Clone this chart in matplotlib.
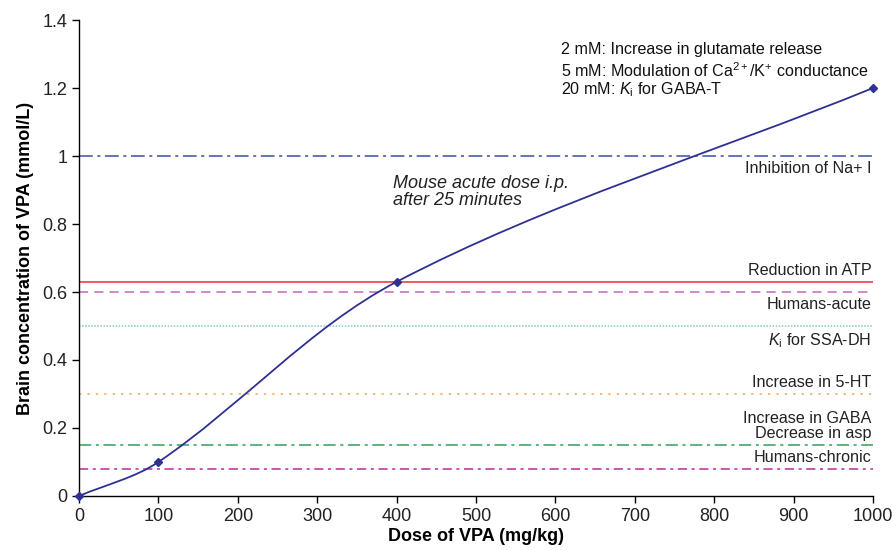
import matplotlib.pyplot as plt
from matplotlib.path import Path
from matplotlib.patches import PathPatch
import numpy as np

plt.rcParams['font.family'] = ['Liberation Sans', 'DejaVu Sans']
plt.rcParams['mathtext.fontset'] = 'custom'
plt.rcParams['mathtext.rm'] = 'Liberation Sans'
plt.rcParams['mathtext.it'] = 'Liberation Sans:italic'

# measured points (dose mg/kg, brain concentration mmol/L)
dose = [0, 100, 400, 1000]
conc = [0, 0.1, 0.63, 1.2]

# reference levels with their labels
levels = [1.0, 0.63, 0.6, 0.5, 0.3, 0.15, 0.08]
level_labels = ['Inhibition of Na+ I', 'Reduction in ATP', 'Humans-acute',
                '$K_\\mathrm{i}$ for SSA-DH', 'Increase in 5-HT',
                'Increase in GABA\nDecrease in asp', 'Humans-chronic']
level_colors = ['#3b4ea3', '#e2313d', '#c867b8', '#86cbc3', '#f4a55a',
                '#2ea05c', '#c0279e']
level_styles = [(0, (9, 3, 2, 3)), '-', (0, (6, 4)), (0, (1, 1)),
                (0, (1.5, 4)), (0, (8, 3, 2, 3)), (0, (6, 3, 2, 3))]
label_above = [False, True, False, False, True, True, True]

notes = ['2 mM: Increase in glutamate release',
         '5 mM: Modulation of Ca$^{2+}$/K$^{+}$ conductance',
         '20 mM: $K_\\mathrm{i}$ for GABA-T']

fig = plt.figure(figsize=(8.96, 5.5), dpi=100)
ax = fig.add_axes([0.0882, 0.0982, 0.8861, 0.8654])

for y, lab, c, ls, above in zip(levels, level_labels, level_colors,
                                level_styles, label_above):
    ax.plot([0, 1000], [y, y], color=c, linestyle=ls, lw=1.1, zorder=2)
    if above:
        ax.text(998, y + 0.012, lab, ha='right', va='bottom', fontsize=11.6,
                color='#222222', linespacing=1.0)
    else:
        ax.text(998, y - 0.015, lab, ha='right', va='top', fontsize=11.6,
                color='#222222')

# smooth line through the points (chord-length Catmull-Rom as cubic Beziers)
sx, sy = 0.794, 340.0
P = np.column_stack([dose, conc]).astype(float)
S = P * [sx, sy]
d = np.hypot(*np.diff(S, axis=0).T)
n = len(P)
tan = np.zeros_like(P)
for i in range(n):
    if i == 0:
        tan[i] = (P[1] - P[0]) / d[0]
    elif i == n - 1:
        tan[i] = (P[-1] - P[-2]) / d[-1]
    else:
        tan[i] = (P[i + 1] - P[i - 1]) / (d[i - 1] + d[i])
verts = [tuple(P[0])]
codes = [Path.MOVETO]
for i in range(n - 1):
    c1 = P[i] + tan[i] * d[i] / 3
    c2 = P[i + 1] - tan[i + 1] * d[i] / 3
    verts += [tuple(c1), tuple(c2), tuple(P[i + 1])]
    codes += [Path.CURVE4] * 3
ax.add_patch(PathPatch(Path(verts, codes), facecolor='none',
                       edgecolor='#2e3192', lw=1.3, zorder=4))
ax.plot(dose, conc, linestyle='none', marker='D', ms=4.5, color='#2e3192',
        zorder=5, clip_on=False)

ax.text(395, 0.945, 'Mouse acute dose i.p.\nafter 25 minutes', fontsize=13,
        style='italic', color='#222222', va='top', linespacing=1.0)
for k, t in enumerate(notes):
    ax.text(607, 1.335 - k * 0.056, t, fontsize=11.6, color='#111111', va='top')

ax.set_xlim(0, 1000)
ax.set_ylim(0, 1.4)
ax.set_xticks(range(0, 1001, 100))
ax.set_yticks(np.arange(0, 1.41, 0.2))
ax.set_yticklabels(['0', '0.2', '0.4', '0.6', '0.8', '1', '1.2', '1.4'])
ax.tick_params(labelsize=13, labelcolor='#222222', length=5, width=1,
               direction='out')
for s in ['top', 'right']:
    ax.spines[s].set_visible(False)
for s in ['left', 'bottom']:
    ax.spines[s].set_linewidth(1.0)
ax.set_xlabel('Dose of VPA (mg/kg)', fontsize=13, fontweight='bold', labelpad=2)
ax.set_ylabel('Brain concentration of VPA (mmol/L)', fontsize=13,
              fontweight='bold', labelpad=6)

fig.savefig('out.png', dpi=100)
